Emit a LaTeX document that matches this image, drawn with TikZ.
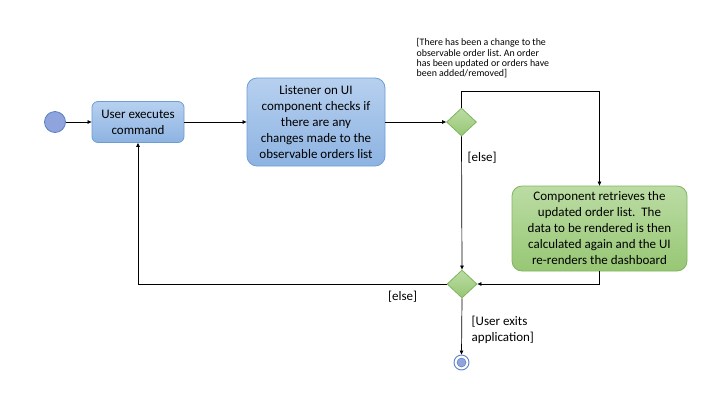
\documentclass[tikz,border=0pt]{standalone}
\usepackage{fontspec}
\setmainfont{Carlito}
\usetikzlibrary{shapes.geometric,arrows.meta}
\frenchspacing
\definecolor{bluefillT}{HTML}{B7D0EF}
\definecolor{bluefillB}{HTML}{8DB3E2}
\definecolor{blueline}{HTML}{6C9DD5}
\definecolor{greenfillT}{HTML}{BBDCA4}
\definecolor{greenfillB}{HTML}{97C774}
\definecolor{greenline}{HTML}{7FB560}
\definecolor{startfill}{HTML}{8FA4DC}
\definecolor{startline}{HTML}{5B7FC8}
\begin{document}
\begin{tikzpicture}[x=1pt,y=-1pt,
  bluebox/.style={draw=blueline,line width=0.8pt,rounded corners=#1,top color=bluefillT,bottom color=bluefillB,align=center,inner sep=0pt,font=\fontsize{13}{16}\selectfont},
  greenbox/.style={draw=greenline,line width=0.8pt,rounded corners=10pt,top color=greenfillT,bottom color=greenfillB,align=center,inner sep=0pt,font=\fontsize{13}{16}\selectfont},
  decision/.style={diamond,draw=greenline,line width=0.8pt,top color=greenfillT,bottom color=greenfillB,minimum width=30pt,minimum height=28pt,inner sep=0pt,aspect=1.07},
  flow/.style={draw=black,line width=0.7pt,-{Triangle[length=4pt,width=3.5pt]}},
  guard/.style={font=\fontsize{13}{16}\selectfont,align=left,inner sep=0pt},
  smallguard/.style={font=\fontsize{9.9}{10.3}\selectfont,align=left,inner sep=0pt}
]
\useasboundingbox (0,0) rectangle (720,405);
\node[circle,draw=startline,line width=0.8pt,fill=startfill,minimum size=21pt,inner sep=0pt] (start) at (55,122) {};
\node[bluebox=6pt,minimum width=92pt,minimum height=41pt] (b1) at (138,122) {User executes\\command};
\node[bluebox=10pt,minimum width=138pt,minimum height=88pt] (b2) at (316,122) {Listener on UI\\component checks if\\there are any\\changes made to the\\observable orders list};
\node[decision] (d1) at (461.5,122) {};
\node[greenbox,minimum width=175pt,minimum height=85pt] (b3) at (599.5,228.5) {Component retrieves the\\updated order list.\ \ The\\data to be rendered is then\\calculated again and the UI\\re-renders the dashboard};
\node[decision] (d2) at (462,284) {};
\node[circle,draw=startline,line width=0.9pt,minimum size=15pt,inner sep=0pt] (end) at (461.5,362.5) {};
\node[circle,fill=startfill,draw=startline,line width=0.5pt,minimum size=9pt,inner sep=0pt] (endin) at (end.center) {};
\coordinate (c1) at (461.5,91.5);
\coordinate (c2) at (599.5,91.5);
\coordinate (c3) at (599.5,284);
\coordinate (c4) at (138,284);
\draw[flow] (start) -- (b1);
\draw[flow] (b1) -- (b2);
\draw[flow] (b2) -- (d1);
\draw[flow] (d1.north) -- (c1) -- (c2) -- (b3.north);
\draw[flow] (d1.south) -- (d2.north);
\draw[flow] (b3.south) -- (c3) -- (d2.east);
\draw[flow] (d2.west) -- (c4) -- (b1.south);
\draw[flow] (d2.south) -- (end.north);
\node[smallguard,anchor=north west] (g1) at (416.5,38.5) {[There has been a change to the\\observable order list. An order\\has been updated or orders have\\been added/removed]};
\node[guard,anchor=west] (g2) at (467.5,158) {[else]};
\node[guard,anchor=west] (g3) at (388,297) {[else]};
\node[guard,anchor=north west] (g4) at (471.5,316) {[User exits\\application]};
\end{tikzpicture}
\end{document}
